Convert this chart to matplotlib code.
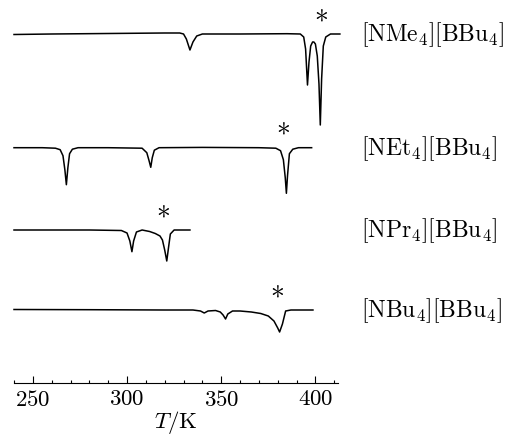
import matplotlib
matplotlib.use("Agg")
import matplotlib.pyplot as plt
from matplotlib.ticker import MultipleLocator

plt.rcParams['font.family'] = 'cmr10'
plt.rcParams['mathtext.fontset'] = 'cm'
plt.rcParams['axes.formatter.use_mathtext'] = True

# DSC traces, signal relative to each baseline (arbitrary units, downward = endotherm)
t_nme4 = [240, 260, 290, 320, 328, 330, 331.5, 333.4, 335, 337, 340, 360, 385, 392,
          393.8, 394.8, 395.8, 396.6, 397.5, 398.5, 399.2, 400, 401, 401.9, 402.6,
          403.3, 404.2, 405.5, 408, 413]
s_nme4 = [-0.5, 0, 0.5, 1, 1, 0, -5, -16, -8, -2, 0, 0, 0.3, 0,
          -3, -15, -51, -28, -12, -8, -8, -10, -22, -50, -91,
          -45, -12, -3, 0, 0]

t_net4 = [240, 255, 262, 264.5, 266, 267, 267.8, 268.6, 269.5, 271, 274, 290, 308,
          310.5, 311.7, 312.6, 313.4, 314.5, 317, 340, 370, 379, 381.5, 383, 384,
          384.6, 385.2, 386.2, 388, 391, 398]
s_net4 = [0, 0, -0.5, -2, -8, -22, -37, -20, -6, -1.5, 0, 0, -0.5,
          -5, -13, -19.6, -10, -2.5, 0, 0.3, 0, -0.5, -3, -12, -30,
          -45.6, -28, -6, -1.5, 0, 0]

t_npr4 = [240, 280, 297, 300, 301.5, 302.6, 303.5, 305, 308, 312, 315, 317.5, 318.8,
          320, 321.1, 322, 323, 325, 333.4]
s_npr4 = [0, 0, -0.5, -3, -11, -21.7, -11, -2, 0, -1.5, -3.5, -6, -10,
          -20, -31, -18, -4, 0, 0]

t_nbu4 = [240, 280, 320, 335, 339, 341, 343, 347, 349.5, 351, 352.3, 353.5, 356, 360,
          366, 371, 375, 378, 380, 381, 382.5, 384.2, 387, 398.7]
s_nbu4 = [0.5, 0.3, 0, 0, -1, -3, -1, -0.5, -2, -5, -9, -4, -1, -1,
          -2, -3.5, -6, -11, -18, -22, -14, -1, 0, 0]

labels = ['[NMe$_4$][BBu$_4$]', '[NEt$_4$][BBu$_4$]',
          '[NPr$_4$][BBu$_4$]', '[NBu$_4$][BBu$_4$]']
star_t = [403.1, 382.8, 319.3, 379.8]

traces = [(t_nme4, s_nme4), (t_net4, s_net4), (t_npr4, s_npr4), (t_nbu4, s_nbu4)]
offsets = [349, 235.3, 153, 73]

fig = plt.figure(figsize=(5.26, 4.42), dpi=100)
ax = fig.add_axes([14/526, 1 - 383/442, 324/526, 383/442])
ax.set_xlim(240, 412)
ax.set_ylim(0, 383)

for (t, s), off, lab, st in zip(traces, offsets, labels, star_t):
    ax.plot(t, [v + off for v in s], color='black', lw=1.1, clip_on=False)
    ax.text(st, off + 11, '*', ha='center', va='center', fontsize=20)
    fig.text(361/526, 1 - (383 - off + 1)/442, lab, ha='left', va='center',
             fontsize=17)

for side in ['left', 'right', 'top']:
    ax.spines[side].set_visible(False)
ax.spines['bottom'].set_linewidth(0.8)
ax.set_yticks([])
ax.xaxis.set_major_locator(MultipleLocator(50))
ax.xaxis.set_minor_locator(MultipleLocator(10))
ax.tick_params(axis='x', which='major', direction='in', length=5, width=0.8,
               labelsize=16.5, pad=5)
ax.tick_params(axis='x', which='minor', direction='in', length=2.5, width=0.8)
ax.set_xlabel('$T$/K', fontsize=16.5, labelpad=-1)

fig.savefig('out.png', dpi=100)
